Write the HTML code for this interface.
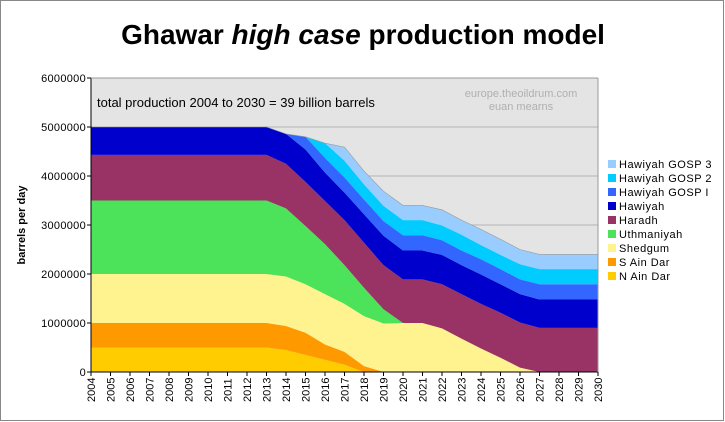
<!DOCTYPE html>
<html><head><meta charset="utf-8"><style>
html,body{margin:0;padding:0;background:#fff;}
svg{display:block;font-family:"Liberation Sans",Arial,sans-serif;}
</style></head><body>
<svg id="chart" width="725" height="422" viewBox="0 0 725 422">
<rect x="0.5" y="0.5" width="723" height="420" fill="#fff" stroke="#888"/>
<text x="363" y="44" text-anchor="middle" font-size="28" font-weight="bold">Ghawar <tspan font-style="italic">high case</tspan> production model</text>
<rect x="91" y="78" width="507" height="294" fill="#e4e4e4"/>
<g id="grid"></g>
<g id="areas"></g>
<g id="axes"></g>
<text x="97" y="107" font-size="13">total production 2004 to 2030 = 39 billion barrels</text>
<text x="521" y="97" text-anchor="middle" font-size="11" fill="#b0b0b0">europe.theoildrum.com</text>
<text x="521" y="110" text-anchor="middle" font-size="11" fill="#b0b0b0">euan mearns</text>
<text transform="translate(25,225) rotate(-90)" text-anchor="middle" font-size="11" font-weight="bold">barrels per day</text>
<g id="legend"></g>
</svg>
<script>
const years = [2004,2005,2006,2007,2008,2009,2010,2011,2012,2013,2014,2015,2016,2017,2018,2019,2020,2021,2022,2023,2024,2025,2026,2027,2028,2029,2030];
const yTicks = [0,1000000,2000000,3000000,4000000,5000000,6000000];
const seriesNames = ["N Ain Dar","S Ain Dar","Shedgum","Uthmaniyah","Haradh","Hawiyah","Hawiyah GOSP  I","Hawiyah GOSP  2","Hawiyah GOSP  3"];
const seriesColors = ["#ffcc00","#ff9900","#fff38f","#4ce35a","#993366","#0000cc","#3366ff","#00ccff","#99ccff"];
const nAinDar = [0.5,0.5,0.5,0.5,0.5,0.5,0.5,0.5,0.5,0.5,0.45,0.35,0.25,0.15,0,0,0,0,0,0,0,0,0,0,0,0,0];
const sAinDar = [0.5,0.5,0.5,0.5,0.5,0.5,0.5,0.5,0.5,0.5,0.49,0.45,0.31,0.26,0.12,0,0,0,0,0,0,0,0,0,0,0,0];
const shedgum = [1,1,1,1,1,1,1,1,1,1,1.01,0.99,1.03,0.98,1.02,0.99,1,1,0.89,0.68,0.48,0.29,0.09,0,0,0,0];
const uthmaniyah = [1.5,1.5,1.5,1.5,1.5,1.5,1.5,1.5,1.5,1.5,1.39,1.19,1.02,0.79,0.58,0.29,0,0,0,0,0,0,0,0,0,0,0];
const haradh = [0.93,0.93,0.93,0.93,0.93,0.93,0.93,0.93,0.93,0.93,0.91,0.9,0.88,0.92,0.92,0.9,0.89,0.89,0.9,0.91,0.91,0.92,0.92,0.9,0.9,0.9,0.9];
const hawiyah = [0.57,0.57,0.57,0.57,0.57,0.57,0.57,0.57,0.57,0.57,0.61,0.66,0.58,0.56,0.58,0.6,0.59,0.59,0.6,0.59,0.6,0.58,0.58,0.58,0.58,0.58,0.58];
const gosp1 = [0,0,0,0,0,0,0,0,0,0,0,0.26,0.3,0.31,0.3,0.3,0.31,0.31,0.3,0.3,0.31,0.31,0.3,0.31,0.31,0.31,0.31];
const gosp2 = [0,0,0,0,0,0,0,0,0,0,0,0,0.3,0.34,0.31,0.31,0.31,0.31,0.3,0.32,0.29,0.29,0.31,0.31,0.31,0.31,0.31];
const gosp3 = [0,0,0,0,0,0,0,0,0,0,0,0,0,0.28,0.27,0.3,0.3,0.3,0.32,0.3,0.32,0.32,0.3,0.3,0.3,0.3,0.3];
const series = [nAinDar,sAinDar,shedgum,uthmaniyah,haradh,hawiyah,gosp1,gosp2,gosp3];

const NS="http://www.w3.org/2000/svg";
const X0=91,X1=598,Y0=372,Y1=78;
function xs(i){return X0+(X1-X0)*i/(years.length-1);}
function ys(v){return Y0-(Y0-Y1)*v/6000000;}
function mk(tag,attrs,parent){const e=document.createElementNS(NS,tag);for(const k in attrs)e.setAttribute(k,attrs[k]);parent.appendChild(e);return e;}
const grid=document.getElementById('grid'),areas=document.getElementById('areas'),axes=document.getElementById('axes'),legend=document.getElementById('legend');

yTicks.forEach(t=>{
  if(t>0&&t<6000000){const l=mk('line',{x1:X0,x2:X1,y1:ys(t),y2:ys(t),stroke:'#b4b4b4','stroke-width':1},grid);
  
  }
  const tk=mk('line',{x1:X0-4,x2:X0,y1:ys(t),y2:ys(t),stroke:'#000'},axes);
  
  
  const tx=mk('text',{x:X0-5,y:ys(t)+4,'text-anchor':'end','font-size':11,'letter-spacing':0.3},axes);
  tx.textContent=String(t);
  
  
});

let base=years.map(()=>0);
series.forEach((s,k)=>{
  const top=base.map((b,i)=>b+s[i]*1000000);
  let d='';
  top.forEach((v,i)=>{d+=(i?'L':'M')+xs(i).toFixed(2)+','+ys(v).toFixed(2);});
  for(let i=years.length-1;i>=0;i--)d+='L'+xs(i).toFixed(2)+','+ys(base[i]).toFixed(2);
  const p=mk('path',{d:d+'Z',fill:seriesColors[k]},areas);
  
  
  base=top;
});
let od='';base.forEach((v,i)=>{od+=(i?'L':'M')+xs(i)+','+ys(v);});
const ol=mk('path',{d:od,fill:'none',stroke:'#999','stroke-width':0.6},areas);



const ya=mk('line',{x1:X0,x2:X0,y1:Y1,y2:Y0,stroke:'#000'},axes);


const xa=mk('line',{x1:X0,x2:X1,y1:Y0,y2:Y0,stroke:'#000'},axes);


const rb=mk('line',{x1:X1,x2:X1,y1:Y1,y2:Y0,stroke:'#999'},axes);


const tb=mk('line',{x1:X0,x2:X1,y1:Y1,y2:Y1,stroke:'#999'},axes);


years.forEach((yr,i)=>{
  const tk=mk('line',{x1:xs(i),x2:xs(i),y1:Y0,y2:Y0+4,stroke:'#000'},axes);
  
  
  const tx=mk('text',{transform:'translate('+(xs(i)+4)+','+(Y0+30)+') rotate(-90)','font-size':11},axes);
  tx.textContent=String(yr);
  
  
});

for(let k=series.length-1;k>=0;k--){
  const row=series.length-1-k;const y=168+row*14;
  const g=mk('g',{},legend);
  
  
  mk('rect',{x:608,y:y-8,width:8,height:8,fill:seriesColors[k]},g);
  const t=mk('text',{x:619,y:y,'font-size':11,'letter-spacing':0.5,'xml:space':'preserve'},g);
  t.textContent=seriesNames[k];
}
</script>
</body></html>
